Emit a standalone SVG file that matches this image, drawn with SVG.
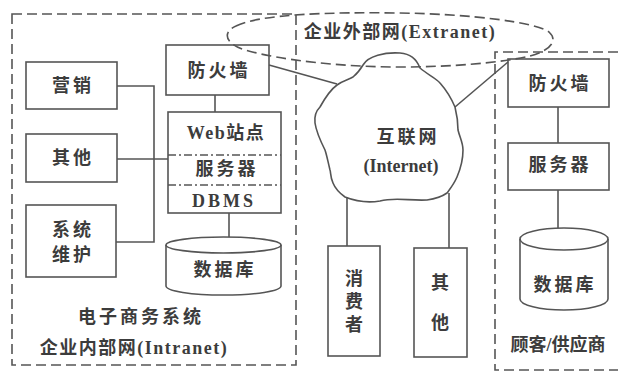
<svg xmlns="http://www.w3.org/2000/svg" width="618" height="372" viewBox="0 0 618 372">
<style>
.bx{fill:none;stroke:#555;stroke-width:1.6}
.ln{fill:none;stroke:#555;stroke-width:1.6}
.dash{fill:none;stroke:#555;stroke-width:1.6;stroke-dasharray:10 5}
.dd{fill:none;stroke:#555;stroke-width:1.3;stroke-dasharray:8 3 2 3}
text{font-family:"Liberation Serif","Noto Sans CJK SC",serif;font-size:18px;fill:#3c3c3c;font-weight:bold;text-anchor:middle;dominant-baseline:central}
.sp{letter-spacing:3px}
.sm{letter-spacing:1.5px}
</style>
<rect width="618" height="372" fill="#fff"/>
<g id="intranet">
<rect class="dash" x="12" y="14" width="284" height="351"/>
<text class="sp" x="141" y="317">电子商务系统</text>
<text class="sm" x="134" y="348">企业内部网(Intranet)</text>
</g>
<g id="extranet">
<path class="dash" d="M236,26 C260,14 330,12 400,13 C470,14 535,22 549,32 C558,40 552,50 530,56 C500,63 450,67 400,67 C340,67 280,60 245,50 C225,44 222,32 236,26 Z"/>
<text class="sm" x="400" y="32">企业外部网(Extranet)</text>
</g>
<g id="partner">
<path class="dash" d="M618,52 H495 V370 H618"/>
<text x="558" y="345">顾客/供应商</text>
</g>
<g id="connectors">
<path class="ln" d="M117,86 H154 V242 H116"/>
<path class="ln" d="M117,159 H168"/>
<path class="ln" d="M215,95 V112"/>
<path class="ln" d="M229,213 V237"/>
<path class="ln" d="M269,65 L337,84"/>
<path class="ln" d="M455,107 L508,62"/>
<path class="ln" d="M347,197 V246"/>
<path class="ln" d="M449,193 V248"/>
<path class="ln" d="M558,107 V143"/>
<path class="ln" d="M558,190 V228"/>
</g>
<g id="marketing">
<rect class="bx" x="26" y="62" width="91" height="47"/>
<text class="sp" x="73" y="86">营销</text>
</g>
<g id="other-left">
<rect class="bx" x="26" y="134" width="91" height="48"/>
<text class="sp" x="73" y="158">其他</text>
</g>
<g id="sysmaint">
<rect class="bx" x="26" y="205" width="90" height="72"/>
<text class="sp" x="73" y="230">系统</text>
<text class="sp" x="73" y="255">维护</text>
</g>
<g id="firewall-left">
<rect class="bx" x="166" y="45" width="103" height="50"/>
<text class="sp" x="219" y="71">防火墙</text>
</g>
<g id="web-server">
<rect class="bx" x="168" y="112" width="113" height="101"/>
<path class="dd" d="M168,155 H281 M168,185 H281"/>
<text class="sm" x="226" y="133">Web站点</text>
<text class="sp" x="227" y="169">服务器</text>
<text class="sp" x="224" y="201">DBMS</text>
</g>
<g id="db-left">
<path class="bx" d="M166,245 V286 A57,9 0 0 0 281,286 V245"/>
<ellipse class="bx" cx="223.5" cy="245" rx="57.5" ry="8"/>
<text class="sp" x="225" y="270">数据库</text>
</g>
<g id="internet">
<path class="bx" d="M363,65 C368,56 385,52 400,53 C410,54 416,58 420,68 C428,75 436,78 440,83 C448,92 452,100 455,107 C457,115 458,122 458,130 C460,138 463,143 463,150 C463,162 460,170 457,177 C454,184 450,189 447,193 C440,198 434,199 427,200 C410,201 395,197 380,201 C368,203 355,201 345,197 C338,192 335,188 333,183 C330,176 331,173 330,170 C328,162 327,156 325,150 C320,140 316,130 315,123 C314,115 317,110 320,107 C325,98 330,90 337,85 C344,80 348,80 353,77 C358,73 360,70 363,65 Z"/>
<text class="sp" x="408" y="137">互联网</text>
<text x="401" y="166">(Internet)</text>
</g>
<g id="consumer">
<rect class="bx" x="328" y="246" width="52" height="110"/>
<text x="354" y="279">消</text>
<text x="354" y="302">费</text>
<text x="354" y="325">者</text>
</g>
<g id="other-mid">
<rect class="bx" x="414" y="248" width="53" height="109"/>
<text x="440" y="283">其</text>
<text x="440" y="323">他</text>
</g>
<g id="firewall-right">
<rect class="bx" x="508" y="59" width="101" height="48"/>
<text class="sp" x="560" y="84">防火墙</text>
</g>
<g id="server-right">
<rect class="bx" x="508" y="143" width="101" height="47"/>
<text class="sp" x="560" y="165">服务器</text>
</g>
<g id="db-right">
<path class="bx" d="M520,239 V299 A44,11 0 0 0 608,299 V239"/>
<ellipse class="bx" cx="564" cy="239" rx="44" ry="11"/>
<text class="sp" x="565" y="285">数据库</text>
</g>
</svg>
